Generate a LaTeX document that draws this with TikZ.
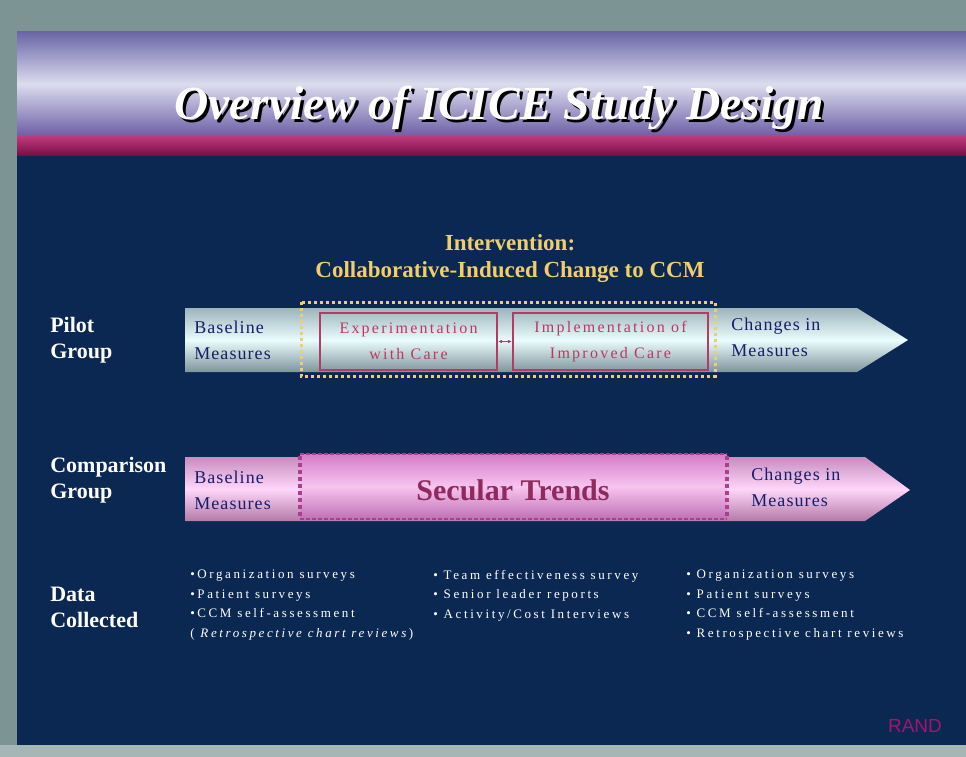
\documentclass[tikz,border=0pt]{standalone}
\usepackage{fontspec}
\setmainfont{Liberation Serif}
\newfontfamily\spacedfont[LetterSpace=6]{Liberation Serif}
\newfontfamily\widefont[LetterSpace=14]{Liberation Serif}
\newfontfamily\datafont[LetterSpace=20]{Liberation Serif}
\newfontfamily\randfont{Liberation Sans}
\usepackage{tikz}
\usetikzlibrary{arrows,positioning}
\definecolor{FRAME}{HTML}{7D9494}
\definecolor{FRAMELOW}{HTML}{A6B6B6}
\definecolor{NAVY}{HTML}{0B2852}
\definecolor{HEADTOP}{HTML}{6A66A8}
\definecolor{HEADMID}{HTML}{DCDCEE}
\definecolor{HEADBOT}{HTML}{6C5EA6}
\definecolor{BARTOP}{HTML}{C03A7E}
\definecolor{BARBOT}{HTML}{7A0E46}
\definecolor{GOLD}{HTML}{F0CE6C}
\definecolor{INK}{HTML}{161E6A}
\definecolor{CARERED}{HTML}{B83A62}
\definecolor{PILOTTOP}{HTML}{9CB4BC}
\definecolor{PILOTMID}{HTML}{EAFCFC}
\definecolor{PILOTBOT}{HTML}{7E949C}
\definecolor{CMPTOP}{HTML}{C88CC0}
\definecolor{CMPMID}{HTML}{FFD6FA}
\definecolor{CMPBOT}{HTML}{B47AA8}
\definecolor{SECTOP}{HTML}{D47CC8}
\definecolor{SECMID}{HTML}{F8C4F0}
\definecolor{SECBOT}{HTML}{C070B4}
\definecolor{PLUM}{HTML}{A8408E}
\definecolor{SECTEXT}{HTML}{8E2A5E}
\definecolor{RANDRED}{HTML}{9E1670}

\begin{document}
\begin{tikzpicture}[x=1pt,y=-1pt,>=stealth',semithick,node distance=4pt]
	\tikzstyle{grouplabel}=[white, font=\bfseries\fontsize{22}{26}\selectfont, align=left, anchor=west, inner sep=0pt]
	\tikzstyle{arrowtext}=[text=INK, font=\spacedfont\fontsize{18}{26}\selectfont, align=left, anchor=west, inner sep=0pt]
	\tikzstyle{carebox}=[draw=CARERED, line width=1.2pt, minimum height=57pt, text=CARERED, font=\widefont\fontsize{16}{26}\selectfont, align=center, inner sep=0pt]
	\tikzstyle{datalist}=[white, font=\datafont\fontsize{13}{19.5}\selectfont, align=left, anchor=north west, inner sep=0pt]
	\tikzstyle{golddots}=[draw=GOLD, line width=3pt, dash pattern=on 3pt off 3pt]
	\tikzstyle{plumdots}=[draw=PLUM, line width=2pt, dash pattern=on 4pt off 2pt]
	\tikzstyle{plumbar}=[draw=PLUM, line width=3.5pt, dash pattern=on 4pt off 3pt]

	\useasboundingbox (0,0) rectangle (966,757);
	\fill[FRAME] (0,0) rectangle (966,757);
	\fill[FRAMELOW] (0,745) rectangle (966,757);
	\fill[NAVY] (17,32) rectangle (966,745);
	\shade[top color=HEADTOP, bottom color=HEADBOT, middle color=HEADMID] (17,32) rectangle (966,136);
	\shade[top color=BARTOP, bottom color=BARBOT] (17,136) rectangle (966,155);

	\node (shadow) [anchor=base, font=\bfseries\itshape\fontsize{47.5}{50}\selectfont, text=black] at (502,123) {Overview of ICICE Study Design};
	\node (title)  [anchor=base, font=\bfseries\itshape\fontsize{47.5}{50}\selectfont, text=white] at (499,120) {Overview of ICICE Study Design};

	% pilot arrow
	\shade[top color=PILOTTOP, bottom color=PILOTBOT, middle color=PILOTMID]
		(185,308) -- (857,308) -- (908,340) -- (857,372) -- (185,372) -- cycle;
	\draw[golddots] (301,302) rectangle (715,376);

	% comparison arrow
	\shade[top color=CMPTOP, bottom color=CMPBOT, middle color=CMPMID]
		(185,457) -- (865,457) -- (910,490) -- (865,521) -- (185,521) -- cycle;
	\shade[top color=SECTOP, bottom color=SECBOT, middle color=SECMID] (300,454) rectangle (727,519);
	\draw[plumdots] (300,454) -- (727,454);
	\draw[plumdots] (300,519) -- (727,519);
	\draw[plumbar] (300,456) -- (300,518);
	\draw[plumbar] (727,456) -- (727,518);

	\node[grouplabel] (pilot)  at (50,340) {Pilot\\Group};
	\node[grouplabel] (cmp)    at (50,480) {Comparison\\Group};
	\node[grouplabel] (data)   at (50,607) {Data\\Collected};

	\node[text=GOLD, font=\bfseries\fontsize{23}{27}\selectfont, align=center] (intv) at (510,259)
		{Intervention:\\Collaborative-Induced Change to CCM};

	\node[arrowtext] (pbase) at (194,340) {Baseline\\Measures};
	\node[carebox, minimum width=177pt] (exp)  at (408.5,341.5) {Experimentation\\with Care};
	\node[carebox, minimum width=195pt] (impl) at (610.5,341.5) {Implementation of\\Improved Care};
	\node[arrowtext] (pchg)  at (731,337) {Changes in\\Measures};

	\node[arrowtext] (cbase) at (194,490) {Baseline\\Measures};
	\node[text=SECTEXT, font=\bfseries\fontsize{30}{34}\selectfont] (secular) at (513,490) {Secular Trends};
	\node[arrowtext] (cchg)  at (751,487) {Changes in\\Measures};

	\node[datalist] (list1) at (190,570) {\textbullet Organization surveys\\\textbullet Patient surveys\\\textbullet CCM self-assessment\\( \textit{Retrospective chart reviews})};
	\node[datalist] (list2) at (433,570) {\textbullet\ Team effectiveness survey\\\textbullet\ Senior leader reports\\\textbullet\ Activity/Cost Interviews};
	\node[datalist] (list3) at (686,570) {\textbullet\ Organization surveys\\\textbullet\ Patient surveys\\\textbullet\ CCM self-assessment\\\textbullet\ Retrospective chart reviews};

	\node[text=RANDRED, font=\randfont\fontsize{19}{22}\selectfont] (rand) at (915,726) {RAND};

	\path (exp) edge [<->, CARERED, thin, shorten >=1pt, shorten <=1pt] (impl);
\end{tikzpicture}
\end{document}
